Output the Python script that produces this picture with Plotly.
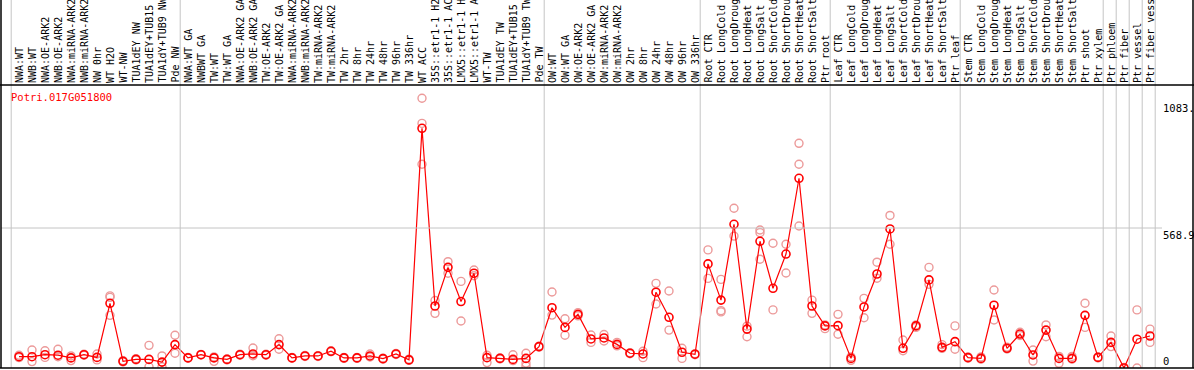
import plotly.graph_objects as go

categories = [
    "NWA:WT", "NWB:WT", "NWA:OE-ARK2", "NWB:OE-ARK2", "NWA:miRNA-ARK2", "NWB:miRNA-ARK2",
    "NW 0hr", "WT H2O", "WT-NW", "TUA1dEY NW", "TUA1dEY+TUB15", "TUA1dY+TUB9 NW", "Pde NW",
    "NWA:WT GA", "NWBWT GA", "TW:WT", "TW:WT GA", "NWA:OE-ARK2 GA", "NWB:OE-ARK2 GA",
    "TW:OE-ARK2", "TW:OE-ARK2 GA", "NWA:miRNA-ARK2", "NWB:miRNA-ARK2", "TW:miRNA-ARK2",
    "TW:miRNA-ARK2", "TW 2hr", "TW 8hr", "TW 24hr", "TW 48hr", "TW 96hr", "TW 336hr",
    "WT ACC", "35S::etr1-1 H2O", "35S::etr1-1 ACC", "LMX5::etr1-1 H2O", "LMX5::etr1-1 ACC",
    "WT-TW", "TUA1dEY TW", "TUA1dEY+TUB15 TW", "TUA1dY+TUB9 TW", "Pde TW",
    "OW:WT", "OW:WT GA", "OW:OE-ARK2", "OW:OE-ARK2 GA", "OW:miRNA-ARK2", "OW:miRNA-ARK2",
    "OW 2hr", "OW 8hr", "OW 24hr", "OW 48hr", "OW 96hr", "OW 336hr",
    "Root CTR", "Root LongCold", "Root LongDrought", "Root LongHeat", "Root LongSalt",
    "Root ShortCold", "Root ShortDrought", "Root ShortHeat", "Root ShortSalt", "Ptr root",
    "Leaf CTR", "Leaf LongCold", "Leaf LongDrought", "Leaf LongHeat", "Leaf LongSalt",
    "Leaf ShortCold", "Leaf ShortDrought", "Leaf ShortHeat", "Leaf ShortSalt", "Ptr leaf",
    "Stem CTR", "Stem LongCold", "Stem LongDrought", "Stem LongHeat", "Stem LongSalt",
    "Stem ShortCold", "Stem ShortDrought", "Stem ShortHeat", "Stem ShortSalt", "Ptr shoot",
    "Ptr xylem", "Ptr phloem", "Ptr fiber", "Ptr vessel", "Ptr fiber vessel",
]

mean_values = [
    46, 46, 54, 52, 41, 54, 43, 263, 27, 35, 35, 24, 95,
    41, 54, 41, 35, 54, 57, 54, 95, 41, 49, 49, 68, 41, 41, 49, 38, 57, 33,
    974, 252, 409, 270, 385, 42, 39, 35, 39, 87,
    245, 165, 218, 118, 122, 96, 60, 57, 308, 206, 64, 56,
    423, 276, 584, 158, 515, 324, 463, 771, 252, 171,
    172, 39, 248, 382, 565, 80, 171, 358, 84, 107,
    42, 39, 255, 80, 138, 53, 154, 39, 39, 214,
    43, 104, 0, 117, 130,
]

rep_a = [
    52, 73, 70, 76, 49, 56, 57, 293, 30, 38, 92, 49, 133,
    43, 55, 45, 37, 56, 81, 56, 119, 43, 51, 50, 70, 43, 43, 57, 40, 59, 36,
    1096, 274, 432, 352, 398, 52, 41, 54, 60, 89,
    309, 200, 225, 134, 136, 104, 62, 68, 344, 313, 80, 58,
    480, 360, 649, 170, 561, 507, 503, 913, 276, 160,
    218, 31, 283, 430, 620, 114, 165, 409, 95, 171,
    45, 45, 317, 85, 145, 73, 175, 47, 47, 263,
    45, 130, 2, 236, 158,
]

rep_b = [
    42, 26, 43, 46, 30, 52, 33, 287, 25, 33, 5, 5, 60,
    40, 53, 27, 33, 52, 50, 52, 76, 40, 47, 47, 66, 39, 39, 45, 36, 55, 31,
    994, 222, 385, 191, 375, 22, 37, 30, 8, 85,
    215, 133, 212, 104, 110, 90, 58, 42, 260, 154, 39, 54,
    364, 233, 536, 127, 550, 236, 386, 828, 222, 175,
    137, 45, 204, 365, 503, 70, 175, 340, 80, 76,
    40, 36, 195, 77, 132, 28, 127, 19, 36, 165,
    41, 87, 0, 0, 104,
]

rep_c = [None] * len(categories)
rep_c[7] = 214
rep_c[31] = 828
rep_c[39] = 20
rep_c[54] = 228
rep_c[57] = 442
rep_c[60] = 577

gene_label = "Potri.017G051800"
y_tick_values = [1083, 568.9, 0]
y_tick_labels = ["1083.", "568.9", "0"]
group_boundaries = [-0.6, 12.4, 40.4, 52.4, 62.4, 72.4, 83.4, 84.4, 85.4, 86.4, 87.4]

W, H = 1194, 370
X0_PX, STEP_PX = 19, 13
PLOT_TOP, PLOT_BOTTOM = 85, 368
Y_MAX = 1150
FONT = "DejaVu Sans Mono"


def px_x(p):
    return p / W


def px_y(p):
    return (H - p) / H


n = len(categories)
xs = list(range(n))

fig = go.Figure()

rep_x, rep_y = [], []
for reps in (rep_a, rep_b, rep_c):
    for i, v in enumerate(reps):
        if v is not None:
            rep_x.append(i)
            rep_y.append(v)

fig.add_trace(go.Scatter(
    x=rep_x, y=rep_y, mode="markers",
    marker=dict(symbol="circle-open", size=8, color="#ec9a9a", line=dict(width=1.4)),
    hoverinfo="skip", showlegend=False,
))
fig.add_trace(go.Scatter(
    x=xs, y=mean_values, mode="lines+markers",
    line=dict(color="#ff0000", width=1.2),
    marker=dict(symbol="circle-open", size=8, color="#ff0000", line=dict(width=1.6)),
    text=categories, hoverinfo="text+y", showlegend=False,
))

shapes = []
grey = "#c4c4c4"
for b in group_boundaries:
    shapes.append(dict(type="line", xref="x", yref="paper", x0=b, x1=b,
                       y0=px_y(PLOT_BOTTOM), y1=1, line=dict(color=grey, width=1)))
shapes.append(dict(type="line", xref="paper", yref="y", x0=px_x(1), x1=px_x(1162),
                   y0=568.9, y1=568.9, line=dict(color=grey, width=1)))
# black frame
shapes.append(dict(type="line", xref="paper", yref="paper", x0=0, x1=1,
                   y0=px_y(PLOT_TOP), y1=px_y(PLOT_TOP), line=dict(color="black", width=1.5)))
shapes.append(dict(type="line", xref="paper", yref="paper", x0=0, x1=1,
                   y0=px_y(PLOT_BOTTOM), y1=px_y(PLOT_BOTTOM), line=dict(color="black", width=1.5)))
shapes.append(dict(type="line", xref="paper", yref="paper", x0=px_x(1), x1=px_x(1),
                   y0=px_y(PLOT_BOTTOM), y1=1, line=dict(color="black", width=1.5)))
shapes.append(dict(type="line", xref="paper", yref="paper", x0=px_x(1193), x1=px_x(1193),
                   y0=px_y(PLOT_BOTTOM), y1=1, line=dict(color="black", width=1.5)))

annotations = []
for i, c in enumerate(categories):
    annotations.append(dict(
        x=i, xref="x", y=px_y(84), yref="paper", text=c, textangle=-90,
        showarrow=False, xanchor="center", yanchor="bottom", borderpad=0,
        font=dict(family=FONT, size=10, color="black"),
    ))
annotations.append(dict(
    x=px_x(9), xref="paper", y=px_y(97), yref="paper", text=gene_label,
    showarrow=False, xanchor="left", yanchor="middle",
    font=dict(family=FONT, size=10.5, color="#ff0000"),
))
for v, t in zip(y_tick_values, y_tick_labels):
    annotations.append(dict(
        x=px_x(1162), xref="paper", y=v, yref="y", text=t,
        showarrow=False, xanchor="left", yanchor="bottom" if v == 0 else "top",
        font=dict(family=FONT, size=10.5, color="black"), borderpad=0,
    ))

fig.update_layout(
    width=W, height=H,
    margin=dict(l=0, r=0, t=0, b=0),
    paper_bgcolor="white", plot_bgcolor="white",
    xaxis=dict(range=[(0 - X0_PX) / STEP_PX, (W - X0_PX) / STEP_PX], domain=[0, 1],
               showgrid=False, zeroline=False, showticklabels=False, ticks=""),
    yaxis=dict(range=[0, Y_MAX], domain=[px_y(PLOT_BOTTOM), px_y(PLOT_TOP)],
               showgrid=False, zeroline=False, showticklabels=False, ticks=""),
    shapes=shapes, annotations=annotations,
)

fig.write_html(
    "out.html",
    config={"displayModeBar": False},
    post_script="document.body.style.margin='0';document.body.style.padding='0';"
                "document.documentElement.style.overflow='hidden';",
)
